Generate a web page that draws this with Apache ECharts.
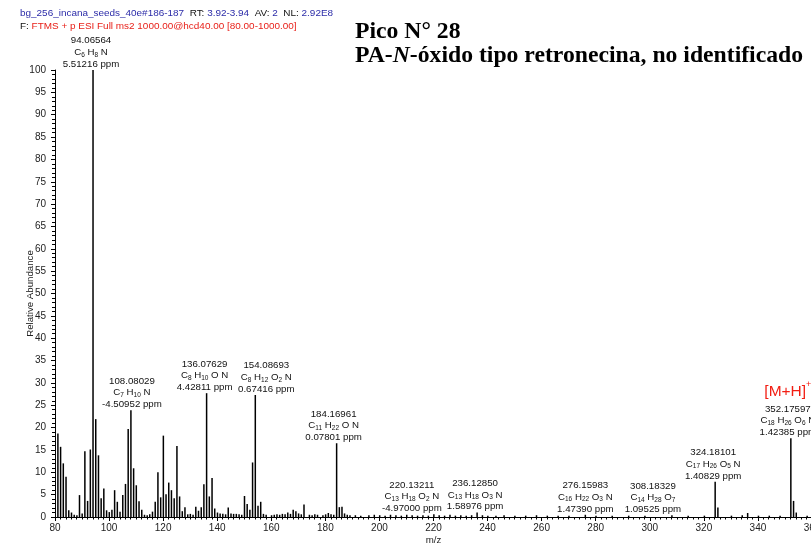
<!DOCTYPE html>
<html>
<head>
<meta charset="utf-8">
<title>Pico N° 28</title>
<script src="https://cdn.jsdelivr.net/npm/echarts@6/dist/echarts.min.js"></script>
<style>
  html, body { margin: 0; padding: 0; background: #fff; }
  #chart { width: 811px; height: 546px; }
</style>
</head>
<body>
<div id="chart"></div>
<script>
// m/z de cada pico y abundancia relativa (%)
const peakMz = [
  81.07, 82.07, 83.07, 84.08, 85.09, 86.1, 87.1, 88.1, 89.06, 90.05,
  91.05, 92.06, 93.07, 94.06564, 95.07, 96.08, 97.07, 98.06, 99.08, 100.08,
  101.06, 102.05, 103.05, 104.05, 105.07, 106.07, 107.07, 108.08029, 109.08, 110.07,
  111.08, 112.09, 113.1, 114.1, 115.05, 116.06, 117.07, 118.07, 119.09, 120.08,
  121.07, 122.07, 123.07, 124.08, 125.1, 126.09, 127.08, 128.07, 129.1, 130.06,
  131.07, 132.08, 133.08, 134.09, 135.07, 136.07629, 137.08, 138.09, 139.08, 140.1,
  141.07, 142.07, 143.1, 144.08, 145.1, 146.06, 147.07, 148.08, 149.07, 150.09,
  151.08, 152.08, 153.08, 154.08693, 155.09, 156.09, 157.1, 158.1, 160.1, 161.1,
  162.1, 163.1, 164.1, 165.1, 166.1, 167.1, 168.1, 169.1, 170.1, 171.1,
  172.1, 174.1, 175.1, 176.1, 177.1, 179.1, 180.1, 181.1, 182.1, 183.1,
  184.16961, 185.17, 186.15, 187.1, 188.1, 189.1, 191.1, 193.1, 196.1, 198.1,
  200.1, 202.1, 204.1, 206.1, 208.1, 210.1, 212.1, 214.1, 216.1, 218.1,
  220.13211, 222.1, 224.1, 226.1, 228.1, 230.1, 232.1, 234.1, 236.1285, 238.1,
  240.1, 243.1, 246.1, 250.1, 254.1, 258.1, 262.1, 266.1, 270.1, 276.15983,
  280.1, 286.1, 292.2, 298.2, 308.18329, 314.2, 320.2, 324.18101, 325.19, 330.2,
  334.2, 336.2, 340.2, 344.2, 348.2, 352.17597, 353.18, 354.18, 358.2
];
const peakAbund = [
  18.7, 15.7, 12.0, 9.0, 1.5, 1.0, 0.5, 0.4, 4.9, 0.8,
  14.7, 3.6, 15.1, 100, 21.9, 13.8, 4.2, 6.4, 1.5, 1.1,
  1.6, 6.0, 3.4, 1.2, 4.9, 7.4, 19.7, 23.9, 10.9, 7.1,
  3.5, 1.6, 0.5, 0.4, 0.6, 1.2, 3.4, 10.0, 4.4, 18.2,
  5.1, 7.7, 6.0, 4.2, 15.9, 4.6, 1.3, 2.2, 0.6, 0.7,
  0.5, 2.3, 1.4, 2.2, 7.3, 27.7, 4.6, 8.7, 1.9, 1.0,
  0.8, 0.7, 0.6, 2.1, 0.8, 0.7, 0.7, 0.6, 0.5, 4.7,
  2.9, 1.6, 12.2, 27.3, 2.5, 3.4, 0.7, 0.5, 0.4, 0.5,
  0.6, 0.5, 0.7, 0.6, 1.0, 0.7, 1.6, 1.3, 0.8, 0.6,
  2.8, 0.5, 0.4, 0.6, 0.5, 0.4, 0.6, 0.9, 0.6, 0.5,
  16.5, 2.2, 2.3, 0.8, 0.5, 0.4, 0.4, 0.3, 0.4, 0.5,
  0.4, 0.3, 0.5, 0.4, 0.3, 0.5, 0.4, 0.3, 0.4, 0.3,
  0.6, 0.4, 0.3, 0.5, 0.3, 0.4, 0.3, 0.4, 1.0, 0.4,
  0.3, 0.3, 0.4, 0.3, 0.3, 0.4, 0.3, 0.3, 0.3, 0.5,
  0.3, 0.3, 0.3, 0.3, 0.4, 0.3, 0.3, 7.9, 2.1, 0.3,
  0.4, 0.9, 0.3, 0.3, 0.3, 17.6, 3.6, 1.0, 0.3
];

// picos anotados
const annoMz = [94.06564, 108.08029, 136.07629, 154.08693, 184.16961, 220.13211, 236.1285, 276.15983, 308.18329, 324.18101, 352.17597];
const annoMzText = ['94.06564', '108.08029', '136.07629', '154.08693', '184.16961', '220.13211', '236.12850', '276.15983', '308.18329', '324.18101', '352.17597'];
const annoFormula = ['C6 H8 N', 'C7 H10 N', 'C8 H10 O N', 'C8 H12 O2 N', 'C11 H22 O N', 'C13 H18 O2 N', 'C13 H18 O3 N', 'C16 H22 O3 N', 'C14 H28 O7', 'C17 H26 O5 N', 'C18 H26 O6 N'];
const annoPpm = ['5.51216', '-4.50952', '4.42811', '0.67416', '0.07801', '-4.97000', '1.58976', '1.47390', '1.09525', '1.40829', '1.42385'];
const precursorMz = 352.17597;

const chart = echarts.init(document.getElementById('chart'), null, { renderer: 'canvas' });

// desplazamiento horizontal de cada etiqueta (px)
const labelDx = [-2, 1, -2, 11, -3, -22, -2, 0, -19, -2, -3];

// "C8 H12 O2 N" -> texto enriquecido con subíndices
function formulaRich(f) {
  return f.split(' ').map(part => {
    const m = part.match(/^([A-Z][a-z]?)(\d*)$/);
    return '{t|' + m[1] + '}' + (m[2] ? '{s|' + m[2] + '}' : '');
  }).join('{t| }');
}

const font = 'Liberation Sans, Arial, sans-serif';
const serif = 'Liberation Serif, Times New Roman, serif';
const blue = '#2b2ba8';
const red = '#e8211a';

const labelRich = {
  t: { fontSize: 9.7, lineHeight: 11.7, color: '#111', fontFamily: font },
  s: { fontSize: 6.5, lineHeight: 11.7, color: '#111', verticalAlign: 'bottom', fontFamily: font },
  mh: { fontSize: 15.5, lineHeight: 23, color: '#f21d12', fontFamily: font },
  sup: { fontSize: 9, lineHeight: 23, color: '#f21d12', verticalAlign: 'top', fontFamily: font }
};

const barData = peakMz.map((mz, i) => {
  const item = { value: [mz, peakAbund[i]] };
  const k = annoMz.indexOf(mz);
  if (k >= 0) {
    let txt = '{t|' + annoMzText[k] + '}\n' + formulaRich(annoFormula[k]) + '\n{t|' + annoPpm[k] + ' ppm}';
    if (mz === precursorMz) txt = '{mh|[M+H]}{sup|+}\n' + txt;
    item.label = {
      show: true,
      position: 'top',
      distance: 0,
      offset: [labelDx[k], 0],
      align: 'center',
      formatter: txt,
      rich: labelRich
    };
  }
  return item;
});

const option = {
  animation: false,
  backgroundColor: '#fff',
  title: [
    {
      left: 15,
      top: 2,
      text: '{b|bg_256_incana_seeds_40e#186-187}{k|  RT: }{b|3.92-3.94}{k|  AV: }{b|2}{k|  NL: }{b|2.92E8}\n{k|F: }{r|FTMS + p ESI Full ms2 1000.00@hcd40.00 [80.00-1000.00]}',
      textStyle: {
        rich: {
          b: { color: blue, fontSize: 9.95, fontWeight: 'normal', lineHeight: 13, fontFamily: font },
          k: { color: '#111', fontSize: 9.95, fontWeight: 'normal', lineHeight: 13, fontFamily: font },
          r: { color: red, fontSize: 9.95, fontWeight: 'normal', lineHeight: 13, fontFamily: font }
        }
      }
    },
    {
      left: 350,
      top: 15,
      text: '{b|Pico N° 28}\n{b|PA-}{i|N}{b|-óxido tipo retronecina, no identificado}',
      textStyle: {
        rich: {
          b: { color: '#000', fontSize: 23.7, fontWeight: 'bold', lineHeight: 24, fontFamily: serif },
          i: { color: '#000', fontSize: 23.7, fontWeight: 'bold', fontStyle: 'italic', lineHeight: 24, fontFamily: serif }
        }
      }
    }
  ],
  grid: { left: 55, right: -1, top: 70, bottom: 29, containLabel: false, outerBoundsMode: 'none' },
  xAxis: {
    type: 'value',
    min: 80,
    max: 360,
    interval: 20,
    name: 'm/z',
    nameLocation: 'middle',
    nameGap: 18,
    nameMoveOverlap: false,
    nameTextStyle: { color: '#222', fontSize: 9.7, fontFamily: font },
    axisLine: { lineStyle: { color: '#000', width: 1 } },
    axisTick: { show: true, length: 4, lineStyle: { color: '#000' } },
    minorTick: { show: true, splitNumber: 10, length: 2.5, lineStyle: { color: '#000' } },
    axisLabel: { color: '#222', fontSize: 10, margin: 6, fontFamily: font },
    splitLine: { show: false }
  },
  yAxis: {
    type: 'value',
    min: 0,
    max: 100,
    interval: 5,
    name: 'Relative Abundance',
    nameLocation: 'middle',
    nameGap: 20,
    nameRotate: 90,
    nameMoveOverlap: false,
    nameTextStyle: { color: '#222', fontSize: 9.7, fontFamily: font },
    axisLine: { show: true, lineStyle: { color: '#000', width: 1 } },
    axisTick: { show: true, length: 4, lineStyle: { color: '#000' } },
    minorTick: { show: true, splitNumber: 5, length: 3, lineStyle: { color: '#000' } },
    axisLabel: { color: '#222', fontSize: 10, margin: 9, fontFamily: font },
    splitLine: { show: false }
  },
  series: [
    {
      type: 'bar',
      name: 'Relative Abundance',
      barWidth: 1.5,
      itemStyle: { color: '#000' },
      label: { show: false },
      data: barData
    }
  ]
};

chart.setOption(option);
</script>
</body>
</html>
